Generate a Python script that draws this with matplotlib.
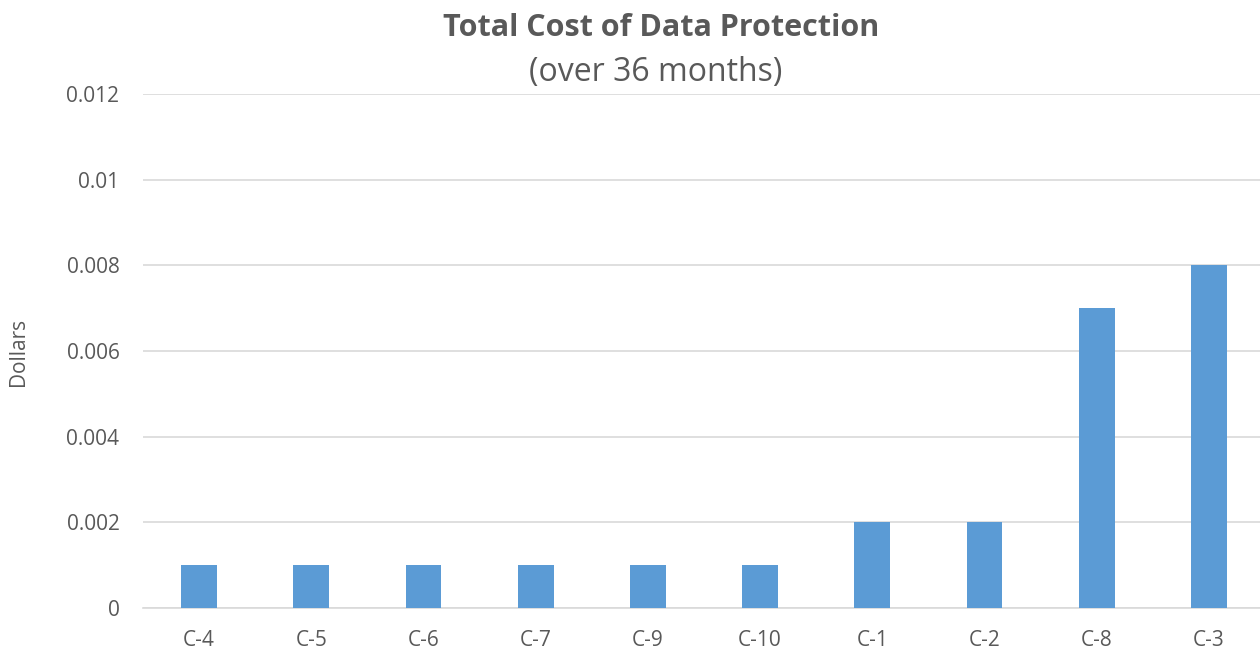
import numpy as np
import matplotlib
matplotlib.use("Agg")
import matplotlib.pyplot as plt

# data
categories = ["C-4", "C-5", "C-6", "C-7", "C-9", "C-10", "C-1", "C-2", "C-8", "C-3"]
costs = [0.001, 0.001, 0.001, 0.001, 0.001, 0.001, 0.002, 0.002, 0.007, 0.008]
y_ticks = [0, 0.002, 0.004, 0.006, 0.008, 0.01, 0.012]
y_tick_labels = ["0", "0.002", "0.004", "0.006", "0.008", "0.01", "0.012"]

plt.rcParams["font.family"] = ["Open Sans", "DejaVu Sans"]
text_color = "#595959"

fig = plt.figure(figsize=(12.6, 6.51), dpi=100)
ax = fig.add_axes([143 / 1260, 1 - 608 / 651, 1122 / 1260, 514 / 651])

x = np.arange(len(categories))
ax.bar(x, costs, width=0.32, color="#5B9BD5", zorder=3)

ax.set_xlim(-0.5, len(categories) - 0.5)
ax.set_ylim(0, 0.012)
ax.set_xticks(x)
ax.set_xticklabels(categories)
ax.set_yticks(y_ticks)
ax.set_yticklabels(y_tick_labels)
ax.tick_params(axis="both", length=0, labelsize=15, colors=text_color)
ax.tick_params(axis="x", pad=16)
ax.tick_params(axis="y", pad=17)

ax.grid(axis="y", color="#D9D9D9", linewidth=1.2, zorder=0)
for side in ["top", "right", "left"]:
    ax.spines[side].set_visible(False)
ax.spines["bottom"].set_color("#D9D9D9")
ax.spines["bottom"].set_linewidth(1.2)

# y label placed in figure coords so it sits at the left edge like the reference
fig.text(18 / 1260, 1 - 352 / 651, "Dollars", rotation=90, ha="center", va="center",
         fontsize=15, color=text_color)

fig.text(661 / 1260, 1 - 28 / 651, "Total Cost of Data Protection", ha="center", va="center",
         fontsize=22, fontweight="bold", color=text_color)
fig.text(656 / 1260, 1 - 73 / 651, "(over 36 months)", ha="center", va="center",
         fontsize=23, color=text_color)

fig.savefig("out.png", dpi=100)
